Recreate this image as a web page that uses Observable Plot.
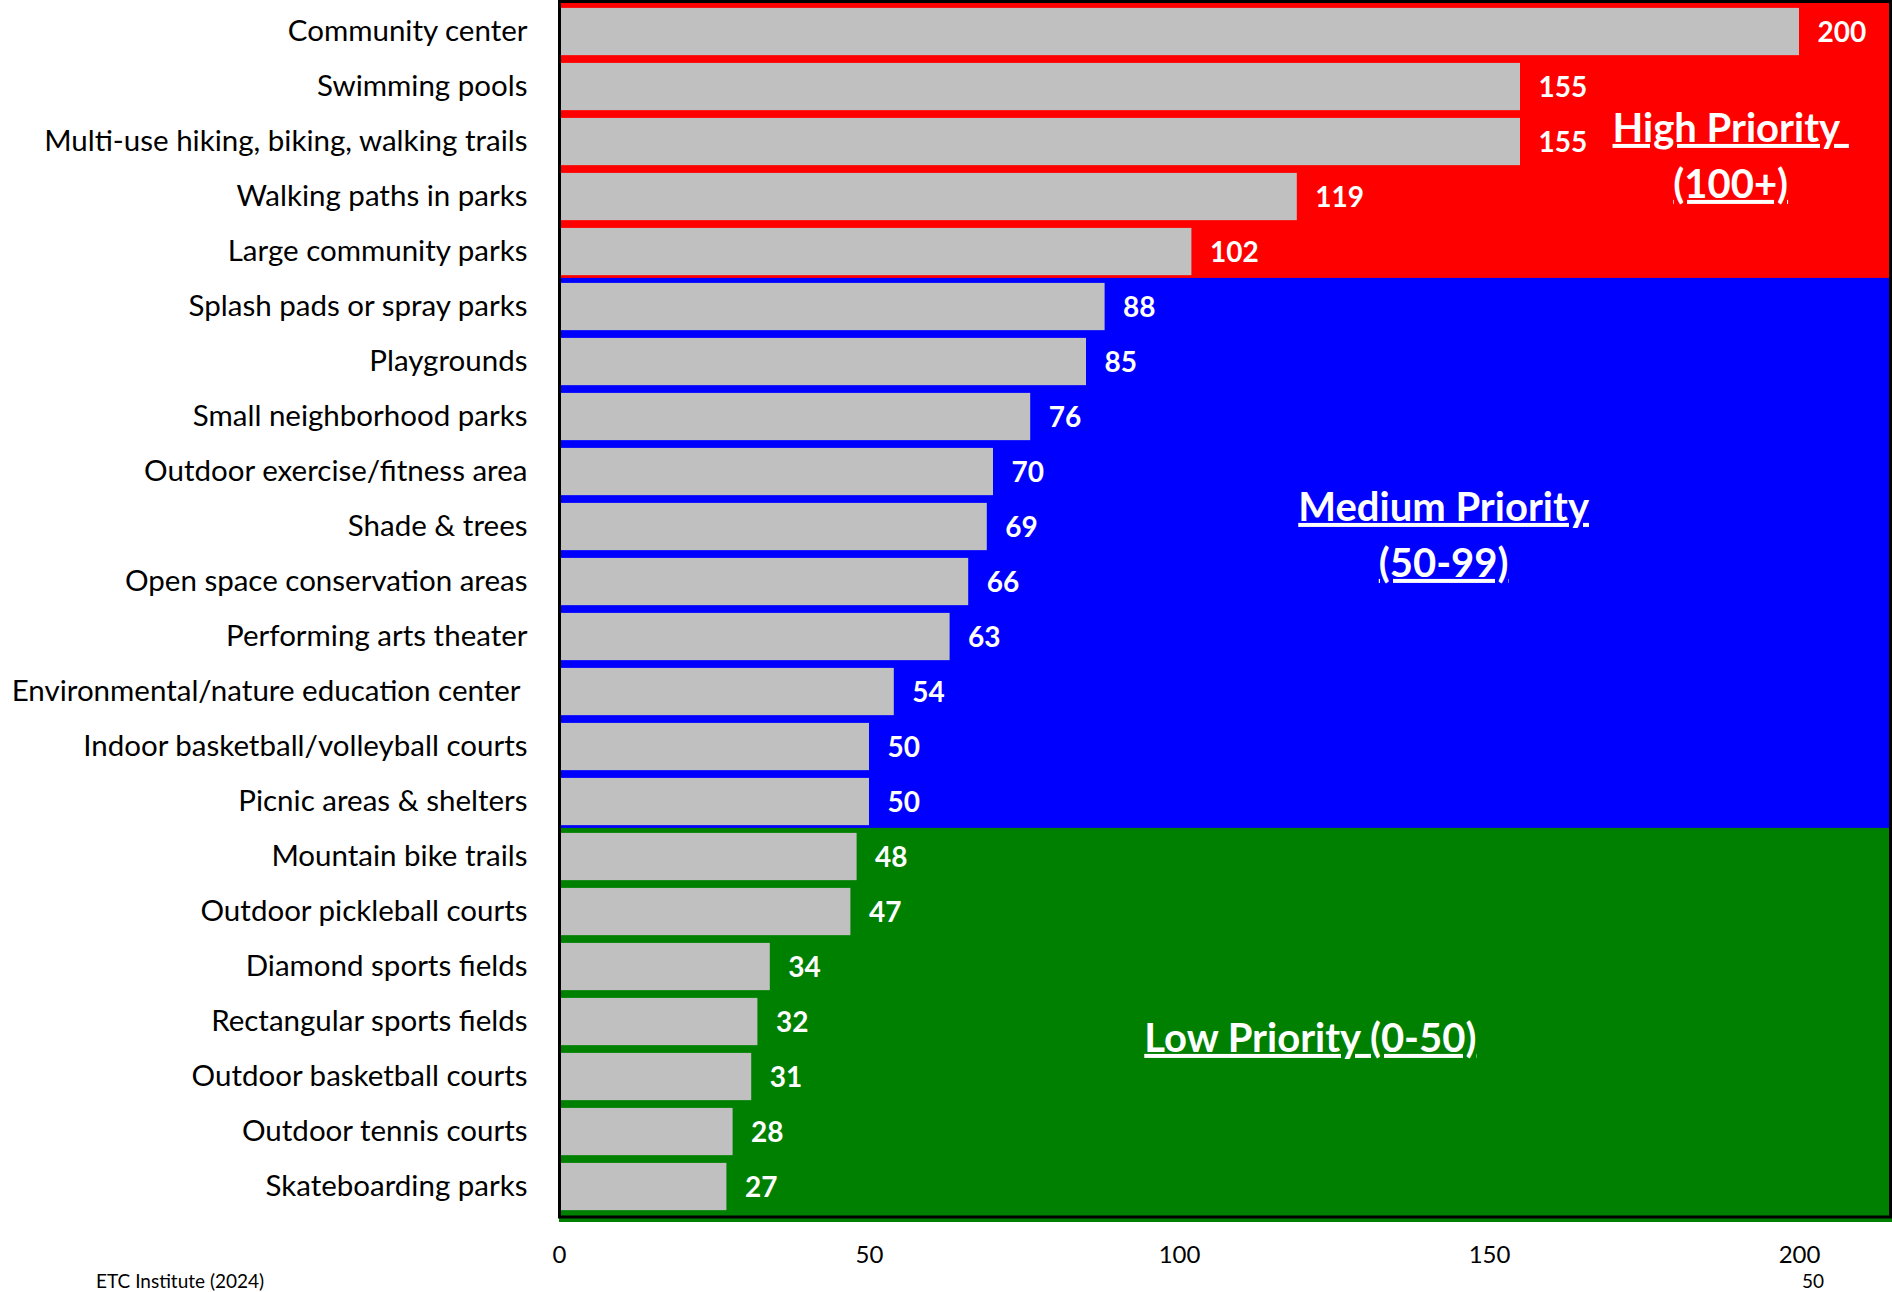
<!DOCTYPE html>
<html>
<head>
<meta charset="utf-8">
<script src="https://cdn.jsdelivr.net/npm/d3@7"></script>
<script src="https://cdn.jsdelivr.net/npm/@observablehq/plot@0.6"></script>
<style>
  body { margin: 0; background: #fff; font-family: Lato, sans-serif; }
  #chart svg { display: block; }
  .foot { position: relative; width: 1892px; height: 22px; font-size: 19px; line-height: 22px; color: #000; }
  .foot span { position: absolute; top: 0; white-space: nowrap; }
</style>
</head>
<body>
<div id="chart"></div>
<div class="foot"><span id="src" style="left:96px"></span><span id="page" style="left:1813px;transform:translateX(-50%)"></span></div>
<script>
const categories = [
  "Community center",
  "Swimming pools",
  "Multi-use hiking, biking, walking trails",
  "Walking paths in parks",
  "Large community parks",
  "Splash pads or spray parks",
  "Playgrounds",
  "Small neighborhood parks",
  "Outdoor exercise/fitness area",
  "Shade & trees",
  "Open space conservation areas",
  "Performing arts theater",
  "Environmental/nature education center ",
  "Indoor basketball/volleyball courts",
  "Picnic areas & shelters",
  "Mountain bike trails",
  "Outdoor pickleball courts",
  "Diamond sports fields",
  "Rectangular sports fields",
  "Outdoor basketball courts",
  "Outdoor tennis courts",
  "Skateboarding parks"
];
const values = [200, 155, 155, 119, 102, 88, 85, 76, 70, 69, 66, 63, 54, 50, 50, 48, 47, 34, 32, 31, 28, 27];
const xTicks = [0, 50, 100, 150, 200];
const xMax = 215;
const priorityNames = ["High", "Medium", "Low"];
const priorityColors = ["#FF0000", "#0000FF", "#008000"];
const priorityLabels = ["High Priority\u00a0\n(100+)", "Medium Priority\n(50-99)", "Low Priority (0-50)"];
const priorityLabelX = [188.9, 142.6, 121.1];
const priorityLabelRow = ["Multi-use hiking, biking, walking trails", "Shade & trees", "Rectangular sports fields"];
const priorityLabelDy = [10, 4, 12];
const sourceNote = "ETC Institute (2024)";
const pageNumber = "50";

const rows = categories.map((c, i) => ({
  category: c,
  value: values[i],
  priority: values[i] >= 100 ? "High" : values[i] >= 50 ? "Medium" : "Low"
}));
const notes = priorityLabels.map((t, i) => ({label: t, x: priorityLabelX[i], row: priorityLabelRow[i], dy: priorityLabelDy[i]}));

const plot = Plot.plot({
  width: 1892,
  height: 1270,
  marginLeft: 559,
  marginRight: 2,
  marginTop: 1,
  marginBottom: 53.5,
  style: {fontFamily: "Lato, sans-serif", background: "white", color: "black"},
  x: {domain: [0, xMax], range: [559, 1892]},
  y: {type: "band", domain: categories, range: [1.1, 1216.6], padding: 0},
  color: {domain: priorityNames, range: priorityColors},
  marks: [
    Plot.barX(rows, {x1: () => 0, x2: () => xMax, y: "category", fill: "priority", insetTop: -1.1, insetBottom: -8}),
    Plot.barX(rows, {x: "value", y: "category", fill: "#C0C0C0", insetTop: 3.9, insetBottom: 3.85}),
    Plot.frame({stroke: "black", strokeWidth: 3}),
    Plot.text(rows, {x: "value", y: "category", text: d => String(d.value), textAnchor: "start", dx: 18, dy: 1,
      fill: "white", fontWeight: "bold", fontSize: 28}),
    ...notes.map(n => Plot.text([n], {x: "x", y: "row", text: "label", dy: n.dy, fill: "white",
      fontWeight: "bold", fontSize: 40, lineHeight: 1.4, textAnchor: "middle"})),
    Plot.axisY({tickSize: 0, tickPadding: 32, fontSize: 29.5, label: null, dy: 0,
      tickFormat: d => d.replace(/\s+$/, m => "\u00a0".repeat(m.length))}),
    Plot.axisX({ticks: xTicks, tickSize: 0, tickPadding: 29, fontSize: 24, label: null})
  ]
});

plot.querySelectorAll('g[font-size="40"] text').forEach(t => {
  t.style.textDecoration = "underline";
  t.style.textDecorationThickness = "4px";
  t.style.textUnderlineOffset = "4px";
  t.style.whiteSpace = "pre";
});

document.getElementById("chart").appendChild(plot);
document.getElementById("src").textContent = sourceNote;
document.getElementById("page").textContent = pageNumber;
</script>
</body>
</html>
